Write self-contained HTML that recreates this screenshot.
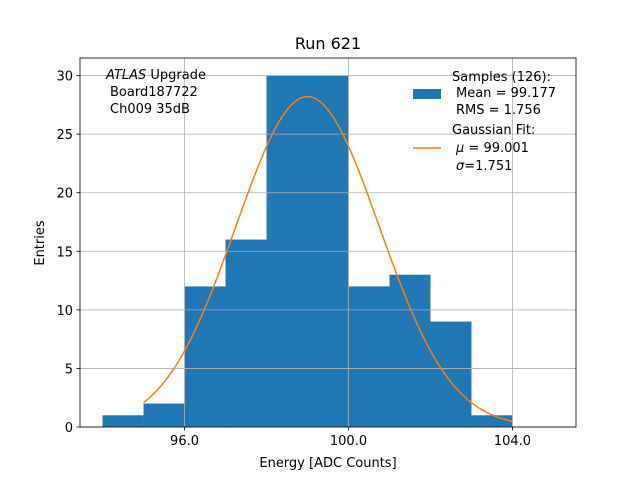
<!DOCTYPE html>
<html><head><meta charset="utf-8"><style>
body{margin:0;background:#fff;font-family:"Liberation Sans","DejaVu Sans",sans-serif}
svg text{font-family:"DejaVu Sans","Liberation Sans",sans-serif}
</style></head><body>
<svg id="c" width="640" height="480" xmlns="http://www.w3.org/2000/svg"></svg>
<script>
const binEdges=[94,95,96,97,98,99,100,101,102,103,104];
const counts=[1,2,12,16,30,30,12,13,9,1];
const xTicks=[96,100,104];
const xTickLabels=["96.0","100.0","104.0"];
const yTicks=[0,5,10,15,20,25,30];
const fitMu=99.001, fitSigma=1.751, fitAmp=28.2, fitRange=[95,104];
const L=80,R=576,T=58,B=427,xmin=93.45,xmax=105.55,ymin=0,ymax=31.5;
const X=v=>L+(v-xmin)/(xmax-xmin)*(R-L);
const Y=v=>B-(v-ymin)/(ymax-ymin)*(B-T);
const s=document.getElementById('c');const NS='http://www.w3.org/2000/svg';
function mk(t,a,txt){const e=document.createElementNS(NS,t);for(const k in a)e.setAttribute(k,a[k]);if(txt!==undefined)e.textContent=txt;s.appendChild(e);return e;}
for(let i=0;i<counts.length;i++){
 const e=mk('rect',{x:X(binEdges[i]),y:Y(counts[i]),width:X(binEdges[i+1])-X(binEdges[i]),height:Y(0)-Y(counts[i]),fill:'#1f77b4'});
 
 
}
xTicks.forEach(v=>{const g=mk('line',{x1:X(v),x2:X(v),y1:T,y2:B,stroke:'#b0b0b0','stroke-width':0.8});});
yTicks.forEach(v=>{const g=mk('line',{x1:L,x2:R,y1:Y(v),y2:Y(v),stroke:'#b0b0b0','stroke-width':0.8});});
let d='';for(let i=0;i<=200;i++){const x=fitRange[0]+(fitRange[1]-fitRange[0])*i/200;const y=fitAmp*Math.exp(-Math.pow(x-fitMu,2)/(2*fitSigma*fitSigma));d+=(i?'L':'M')+X(x).toFixed(2)+','+Y(y).toFixed(2);}
const f=mk('path',{d:d,fill:'none',stroke:'#ff7f0e','stroke-width':1.5});


mk('rect',{x:L,y:T,width:R-L,height:B-T,fill:'none',stroke:'#000','stroke-width':0.8,});
xTicks.forEach((v,i)=>{mk('line',{x1:X(v),x2:X(v),y1:B,y2:B+3.5,stroke:'#000','stroke-width':0.8});const t=mk('text',{x:X(v),y:B+18,'font-size':13,'text-anchor':'middle'},xTickLabels[i]);});
yTicks.forEach(v=>{mk('line',{x1:L-3.5,x2:L,y1:Y(v),y2:Y(v),stroke:'#000','stroke-width':0.8});const t=mk('text',{x:L-7,y:Y(v)+5,'font-size':13,'text-anchor':'end'},String(v));});
</script>
<svg width="640" height="480" style="position:absolute;left:0;top:0" xmlns="http://www.w3.org/2000/svg">
<text x="328" y="49" font-size="16" text-anchor="middle">Run 621</text>
<text x="328" y="467" font-size="13" text-anchor="middle">Energy [ADC Counts]</text>
<text transform="translate(44,243) rotate(-90)" font-size="13" text-anchor="middle">Entries</text>
<g font-size="13">
<text x="106" y="79"><tspan font-style="italic">ATLAS</tspan> Upgrade</text>
<text x="110" y="96">Board187722</text>
<text x="110" y="113">Ch009 35dB</text>
</g>
<g font-size="13">
<rect x="413" y="89" width="28" height="10" fill="#1f77b4"/>
<text x="452" y="81">Samples (126):</text>
<text x="456" y="97">Mean = 99.177</text>
<text x="456" y="114">RMS = 1.756</text>
<line x1="413" x2="441" y1="148" y2="148" stroke="#ff7f0e" stroke-width="1.5"/>
<text x="452" y="134">Gaussian Fit:</text>
<text x="456" y="152"><tspan font-style="italic">μ</tspan> = 99.001</text>
<text x="456" y="170"><tspan font-style="italic">σ</tspan>=1.751</text>
</g>
</svg>
</body></html>
